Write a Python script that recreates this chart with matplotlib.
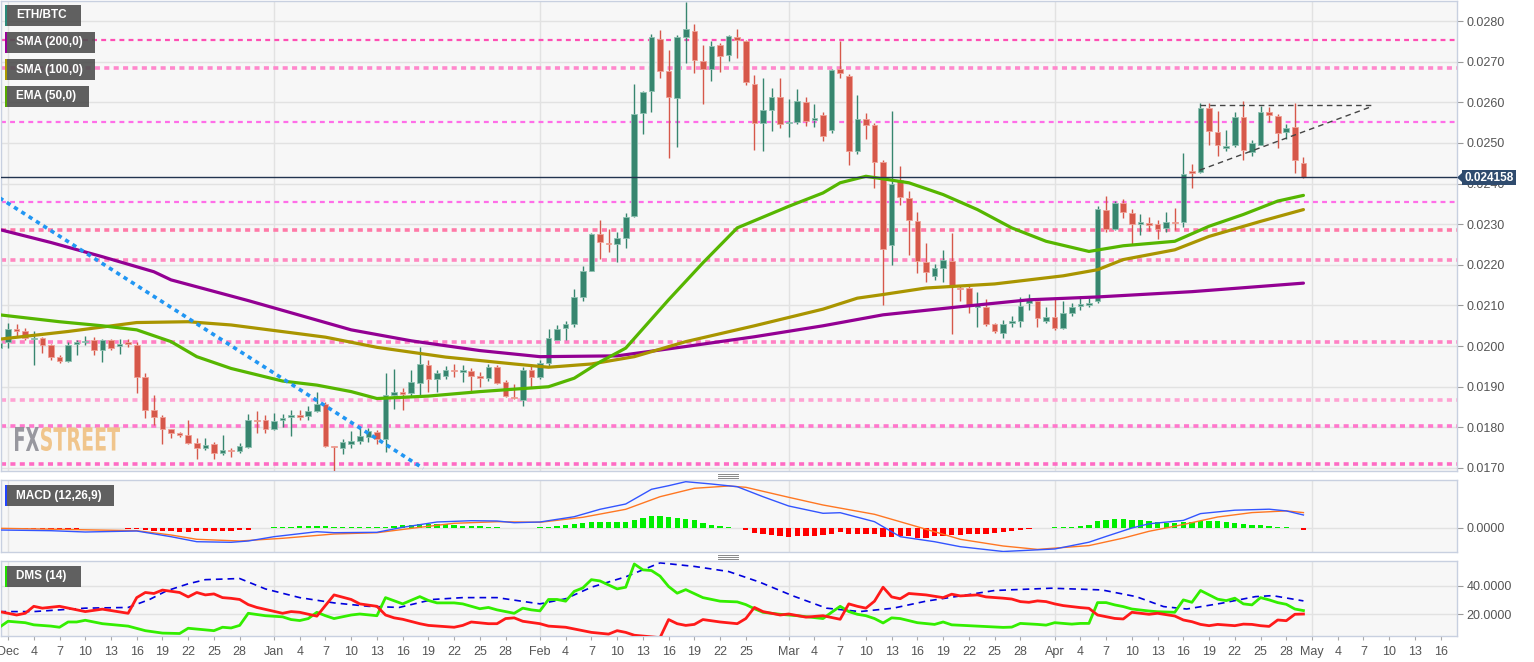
import numpy as np
import pandas as pd
import matplotlib
matplotlib.use('Agg')
import matplotlib.pyplot as plt
from matplotlib.patches import Rectangle, Polygon, PathPatch
from matplotlib.lines import Line2D
from matplotlib.textpath import TextPath
from matplotlib.font_manager import FontProperties
from matplotlib.transforms import Affine2D

plt.rcParams['font.family'] = ['Liberation Sans', 'DejaVu Sans']

# ---- data (day offsets from 2019-12-01) ----
start = pd.Timestamp('2019-12-01')
candle_days = list(range(-1, 152))  # Nov 30 .. Apr 30

opens = [
    0.01995, 0.02011, 0.02042, 0.02036, 0.02017, 0.02021, 0.02003, 0.01972, 0.01964, 0.02005,
    0.02009, 0.02015, 0.01991, 0.02014, 0.02000, 0.02009, 0.02003, 0.01925, 0.01842, 0.01826,
    0.01795, 0.01786, 0.01780, 0.01762, 0.01749, 0.01759, 0.01737, 0.01743, 0.01742, 0.01752,
    0.01819, 0.01818, 0.01797, 0.01818, 0.01826, 0.01830, 0.01828, 0.01841, 0.01857, 0.01754,
    0.01750, 0.01760, 0.01767, 0.01777, 0.01789, 0.01771, 0.01879, 0.01886, 0.01885, 0.01910,
    0.01953, 0.01918, 0.01926, 0.01940, 0.01937, 0.01939, 0.01926, 0.01921, 0.01949, 0.01912,
    0.01874, 0.01867, 0.01941, 0.01923, 0.01958, 0.02015, 0.02044, 0.02055, 0.02122, 0.02186,
    0.02276, 0.02252, 0.02251, 0.02266, 0.02320, 0.02573, 0.02628, 0.02757, 0.02677, 0.02610,
    0.02762, 0.02776, 0.02702, 0.02682, 0.02741, 0.02716, 0.02762, 0.02752, 0.02645, 0.02548,
    0.02581, 0.02612, 0.02548, 0.02552, 0.02601, 0.02556, 0.02568, 0.02531, 0.02682, 0.02665,
    0.02479, 0.02560, 0.02544, 0.02454, 0.02250, 0.02408, 0.02365, 0.02309, 0.02206, 0.02173,
    0.02192, 0.02210, 0.02144, 0.02143, 0.02096, 0.02097, 0.02054, 0.02033, 0.02056, 0.02063,
    0.02106, 0.02112, 0.02063, 0.02071, 0.02044, 0.02081, 0.02099, 0.02102, 0.02110, 0.02336,
    0.02288, 0.02351, 0.02328, 0.02300, 0.02303, 0.02300, 0.02290, 0.02306, 0.02306, 0.02430,
    0.02428, 0.02587, 0.02527, 0.02487, 0.02496, 0.02565, 0.02478, 0.02496, 0.02575, 0.02566,
    0.02527, 0.02540, 0.02451]
highs = [
    0.02012, 0.02056, 0.02055, 0.02044, 0.02036, 0.02023, 0.02005, 0.01978, 0.02009, 0.02014,
    0.02025, 0.02023, 0.02017, 0.02017, 0.02017, 0.02017, 0.02009, 0.01933, 0.01879, 0.01830,
    0.01797, 0.01789, 0.01818, 0.01775, 0.01775, 0.01764, 0.01781, 0.01748, 0.01762, 0.01834,
    0.01841, 0.01830, 0.01836, 0.01834, 0.01842, 0.01842, 0.01853, 0.01888, 0.01863, 0.01755,
    0.01772, 0.01791, 0.01799, 0.01799, 0.01793, 0.01933, 0.01943, 0.01896, 0.01941, 0.01999,
    0.01967, 0.01940, 0.01951, 0.01955, 0.01953, 0.01945, 0.01937, 0.01956, 0.01953, 0.01916,
    0.01907, 0.01949, 0.01955, 0.01966, 0.02042, 0.02052, 0.02063, 0.02140, 0.02196, 0.02278,
    0.02311, 0.02287, 0.02280, 0.02328, 0.02646, 0.02627, 0.02768, 0.02779, 0.02729, 0.02765,
    0.02848, 0.02793, 0.02742, 0.02752, 0.02747, 0.02766, 0.02780, 0.02754, 0.02668, 0.02661,
    0.02636, 0.02659, 0.02608, 0.02632, 0.02614, 0.02595, 0.02575, 0.02682, 0.02752, 0.02669,
    0.02617, 0.02573, 0.02548, 0.02457, 0.02579, 0.02443, 0.02381, 0.02329, 0.02255, 0.02203,
    0.02237, 0.02278, 0.02148, 0.02147, 0.02134, 0.02116, 0.02056, 0.02065, 0.02073, 0.02122,
    0.02129, 0.02116, 0.02097, 0.02116, 0.02110, 0.02106, 0.02124, 0.02118, 0.02344, 0.02369,
    0.02357, 0.02361, 0.02338, 0.02326, 0.02318, 0.02310, 0.02329, 0.02340, 0.02476, 0.02447,
    0.02599, 0.02598, 0.02579, 0.02533, 0.02575, 0.02603, 0.02507, 0.02591, 0.02589, 0.02571,
    0.02546, 0.02599, 0.02466]
lows = [
    0.01990, 0.01995, 0.02025, 0.02014, 0.01954, 0.01982, 0.01966, 0.01959, 0.01962, 0.01978,
    0.02003, 0.01978, 0.01961, 0.01991, 0.01981, 0.01999, 0.01885, 0.01822, 0.01805, 0.01760,
    0.01775, 0.01777, 0.01759, 0.01723, 0.01744, 0.01721, 0.01731, 0.01727, 0.01737, 0.01748,
    0.01786, 0.01786, 0.01793, 0.01800, 0.01778, 0.01818, 0.01818, 0.01838, 0.01752, 0.01693,
    0.01734, 0.01748, 0.01760, 0.01764, 0.01759, 0.01740, 0.01844, 0.01842, 0.01875, 0.01879,
    0.01888, 0.01888, 0.01918, 0.01923, 0.01912, 0.01884, 0.01900, 0.01915, 0.01907, 0.01874,
    0.01869, 0.01853, 0.01900, 0.01918, 0.01949, 0.02014, 0.02015, 0.02046, 0.02110, 0.02184,
    0.02214, 0.02231, 0.02206, 0.02241, 0.02318, 0.02521, 0.02576, 0.02661, 0.02464, 0.02491,
    0.02696, 0.02673, 0.02597, 0.02653, 0.02675, 0.02701, 0.02710, 0.02643, 0.02482, 0.02480,
    0.02529, 0.02538, 0.02515, 0.02546, 0.02542, 0.02540, 0.02505, 0.02525, 0.02660, 0.02445,
    0.02472, 0.02509, 0.02390, 0.02102, 0.02200, 0.02348, 0.02225, 0.02180, 0.02159, 0.02162,
    0.02159, 0.02030, 0.02112, 0.02081, 0.02046, 0.02050, 0.02032, 0.02019, 0.02048, 0.02048,
    0.02089, 0.02046, 0.02056, 0.02040, 0.02042, 0.02074, 0.02089, 0.02096, 0.02106, 0.02280,
    0.02285, 0.02315, 0.02252, 0.02274, 0.02283, 0.02264, 0.02280, 0.02285, 0.02292, 0.02390,
    0.02425, 0.02496, 0.02468, 0.02480, 0.02491, 0.02459, 0.02468, 0.02494, 0.02552, 0.02488,
    0.02510, 0.02427, 0.02414]
closes = [
    0.02007, 0.02042, 0.02037, 0.02019, 0.02019, 0.02003, 0.01972, 0.01963, 0.02003, 0.02009,
    0.02010, 0.01991, 0.02014, 0.01996, 0.02005, 0.02005, 0.01925, 0.01842, 0.01826, 0.01795,
    0.01786, 0.01780, 0.01762, 0.01748, 0.01757, 0.01737, 0.01744, 0.01742, 0.01754, 0.01818,
    0.01816, 0.01797, 0.01816, 0.01824, 0.01830, 0.01826, 0.01840, 0.01857, 0.01754, 0.01752,
    0.01763, 0.01766, 0.01779, 0.01791, 0.01772, 0.01879, 0.01887, 0.01882, 0.01912, 0.01956,
    0.01919, 0.01933, 0.01940, 0.01938, 0.01938, 0.01927, 0.01922, 0.01949, 0.01910, 0.01877,
    0.01872, 0.01941, 0.01925, 0.01958, 0.02020, 0.02042, 0.02055, 0.02121, 0.02184, 0.02276,
    0.02256, 0.02251, 0.02266, 0.02318, 0.02571, 0.02626, 0.02762, 0.02676, 0.02614, 0.02760,
    0.02780, 0.02705, 0.02682, 0.02738, 0.02714, 0.02764, 0.02754, 0.02650, 0.02548, 0.02581,
    0.02612, 0.02547, 0.02552, 0.02603, 0.02554, 0.02562, 0.02517, 0.02679, 0.02673, 0.02479,
    0.02558, 0.02545, 0.02454, 0.02239, 0.02400, 0.02367, 0.02311, 0.02209, 0.02182, 0.02192,
    0.02213, 0.02148, 0.02140, 0.02102, 0.02101, 0.02055, 0.02036, 0.02055, 0.02063, 0.02099,
    0.02116, 0.02069, 0.02071, 0.02044, 0.02081, 0.02097, 0.02103, 0.02107, 0.02338, 0.02288,
    0.02351, 0.02329, 0.02301, 0.02305, 0.02298, 0.02287, 0.02306, 0.02303, 0.02424, 0.02427,
    0.02587, 0.02529, 0.02494, 0.02492, 0.02565, 0.02482, 0.02499, 0.02576, 0.02568, 0.02525,
    0.02538, 0.02458, 0.024158]
last_price = 0.024158

sma200_days = [-1, 5, 11, 17, 19, 28, 32, 40, 47, 55, 62, 71, 79, 87, 95, 102, 111, 119, 127, 138, 151]
sma200_vals = [0.02287, 0.02255, 0.02220, 0.02183, 0.02163, 0.02112, 0.02088, 0.02040, 0.02013, 0.01989,
               0.01974, 0.01976, 0.01999, 0.02023, 0.02050, 0.02077, 0.02097, 0.02114, 0.02121, 0.02134, 0.02155]
sma100_days = [-1, 7, 15, 21, 26, 33, 37, 43, 51, 59, 63, 68, 73, 79, 87, 95, 99, 102, 107, 115, 123,
               127, 130, 136, 140, 146, 151]
sma100_vals = [0.02017, 0.02036, 0.02058, 0.02060, 0.02052, 0.02033, 0.02022, 0.01997, 0.01973, 0.01956,
               0.01948, 0.01956, 0.01974, 0.02011, 0.02050, 0.02091, 0.02118, 0.02127, 0.02143, 0.02153,
               0.02173, 0.02188, 0.02213, 0.02237, 0.02270, 0.02307, 0.02336]
ema50_days = [-1, 6, 11, 15, 19, 22, 26, 32, 36, 40, 43, 49, 55, 59, 63, 66, 69, 72, 77, 81, 85, 91, 95,
              97, 100, 105, 109, 113, 117, 121, 126, 130, 136, 140, 144, 148, 151]
ema50_vals = [0.02077, 0.02060, 0.02050, 0.02040, 0.02011, 0.01974, 0.01945, 0.01914, 0.01904, 0.01888,
              0.01871, 0.01877, 0.01888, 0.01894, 0.01900, 0.01921, 0.01961, 0.01995, 0.02114, 0.02205,
              0.02291, 0.02344, 0.02377, 0.02402, 0.02418, 0.02402, 0.02373, 0.02336, 0.02291, 0.02258,
              0.02233, 0.02247, 0.02258, 0.02295, 0.02324, 0.02357, 0.02371]

levels = [0.02753, 0.02684, 0.02551, 0.02354, 0.02286, 0.02211, 0.02009, 0.01868, 0.01804, 0.01709]
level_colors = ['#ff4fb4', '#ff88cc', '#ff6ee8', '#ff6ee8', '#ff7aa8', '#ff88c0', '#ff80c4',
                '#ffa3d3', '#ff78cc', '#ff6cc4']
level_thick = [False, True, False, False, True, True, True, True, True, True]

trend_days = [-1, 48.4]
trend_vals = [0.02365, 0.01699]
tri_top_days = [138.9, 159]
tri_top_vals = [0.02593, 0.02593]
tri_low_days = [138.9, 159]
tri_low_vals = [0.02433, 0.02590]

macd_hist = [
    -0.00001, -0.00001, -0.00001, -0.00001, -0.00001, -0.00001, -0.00001, -0.00001, -0.00001, -0.00001,
    -0.000006, -0.000006, -0.000006, -0.000006, -0.000006, -0.00001, -0.00002, -0.00004, -0.00005, -0.00006,
    -0.000066, -0.00007, -0.00007, -0.000066, -0.000066, -0.00006, -0.000056, -0.00005, -0.00004, -0.00003,
    0.000004, 0.000008, 0.000014, 0.00002, 0.00003, 0.00004, 0.00005, 0.00005, 0.00004, 0.00003,
    0.000024, 0.00002, 0.000016, 0.000014, 0.000014, 0.00002, 0.00005, 0.00006, 0.00007, 0.00008,
    0.00008, 0.00008, 0.000076, 0.00006, 0.00005, 0.000044, 0.000036, 0.000024, 0.000016, 0.000004,
    -0.000006, -0.000004, 0.000006, 0.00002, 0.00003, 0.00004, 0.00006, 0.00008, 0.0001, 0.00012,
    0.00013, 0.00013, 0.00013, 0.00013, 0.00016, 0.0002, 0.00025, 0.00024, 0.00022, 0.0002,
    0.00019, 0.00016, 0.0001, 0.00007, 0.00004, 0.00002, 0.000006, -0.00003, -0.000106, -0.000126,
    -0.00014, -0.000166, -0.000174, -0.00016, -0.00016, -0.00016, -0.000146, -0.000114, -0.00008, -0.000114,
    -0.000114, -0.000114, -0.000114, -0.00018, -0.00018, -0.00016, -0.000166, -0.000194, -0.000194, -0.000166,
    -0.00016, -0.000146, -0.00014, -0.000126, -0.000126, -0.000114, -0.000106, -0.000088, -0.000068, -0.000034,
    -0.000014, -0.000006, 0.000004, 0.000014, 0.00002, 0.000028, 0.000048, 0.000062, 0.000136, 0.000156,
    0.00019, 0.00019, 0.00017, 0.000156, 0.000136, 0.000122, 0.000102, 0.000102, 0.000116, 0.000116,
    0.00015, 0.00015, 0.000136, 0.000116, 0.000108, 0.000082, 0.000062, 0.000054, 0.000048, 0.000028,
    0.000014, 0.0, -0.00004]
macd_days = [-1, 5, 9, 15, 19, 22, 26, 28, 31, 36, 38, 43, 46, 50, 54, 57, 59, 62, 66, 69, 72, 75, 77,
             79, 82, 85, 88, 91, 95, 97, 101, 104, 108, 111, 116, 122, 126, 128, 131, 133, 137, 139,
             143, 147, 149, 151]
macd_vals = [-0.00004, -0.000054, -0.00008, -0.00006, -0.000174, -0.000274, -0.000286, -0.00026, -0.000174,
             -0.000074, -0.000094, -0.000086, 0.000014, 0.00012, 0.000146, 0.00014, 0.000106, 0.00012,
             0.000226, 0.000374, 0.00048, 0.000774, 0.000846, 0.000926, 0.00088, 0.000826, 0.000626,
             0.00044, 0.000294, 0.000306, 0.000126, -0.000174, -0.000274, -0.000374, -0.00047, -0.00042,
             -0.000284, -0.000168, 0.0, 0.000084, 0.000152, 0.000288, 0.000356, 0.000376, 0.000342, 0.00026]
signal_days = [-1, 15, 19, 22, 27, 32, 38, 43, 48, 52, 57, 62, 67, 72, 76, 80, 84, 86, 91, 95, 101, 106,
               111, 116, 120, 126, 130, 133, 137, 141, 145, 149, 151]
signal_vals = [-0.000006, -0.000054, -0.00014, -0.000226, -0.00026, -0.000206, -0.00012, -0.000094,
               0.000014, 0.000094, 0.000126, 0.000114, 0.000214, 0.000374, 0.000626, 0.000794, 0.00084,
               0.000814, 0.000614, 0.00046, 0.000274, 0.000026, -0.000226, -0.00036, -0.000428, -0.000352,
               -0.000202, -0.000066, 0.00007, 0.00022, 0.000308, 0.000342, 0.000308]

di_minus_days = [-1, 1, 2, 3, 4, 6, 9, 11, 14, 15, 16, 17, 18, 20, 21, 22, 23, 24, 25, 26, 27, 28, 29, 32,
                 33, 34, 36, 37, 38, 40, 41, 43, 44, 45, 46, 48, 49, 52, 53, 54, 56, 57, 58, 59, 60, 62,
                 63, 65, 68, 70, 71, 72, 73, 76, 77, 78, 79, 80, 81, 83, 85, 86, 87, 88, 90, 91, 93, 95,
                 97, 98, 99, 100, 101, 102, 103, 104, 105, 107, 109, 110, 111, 113, 114, 116, 117, 118,
                 119, 120, 121, 122, 123, 125, 126, 127, 128, 129, 130, 131, 133, 134, 136, 137, 138, 139,
                 140, 141, 143, 144, 145, 146, 147, 148, 149, 150, 151]
di_minus_vals = [21.7, 19.3, 20.5, 25.4, 24.1, 25.4, 21.7, 23.4, 20.5, 31.5, 35.1, 34.4, 36.8, 35.1, 32.0,
                 35.1, 33.4, 34.1, 31.5, 31.0, 30.2, 26.6, 24.6, 20.5, 21.7, 21.2, 18.5, 26.0, 33.4, 30.2,
                 27.1, 25.4, 19.3, 17.3, 16.3, 13.2, 12.0, 10.7, 12.0, 14.4, 13.2, 13.2, 16.8, 17.3, 14.9,
                 13.2, 11.5, 10.7, 7.1, 5.9, 8.3, 7.1, 5.1, 3.4, 16.1, 13.2, 12.0, 12.7, 16.1, 14.4, 13.2,
                 16.8, 24.6, 21.7, 19.3, 20.0, 17.8, 18.8, 16.3, 27.1, 25.4, 24.1, 29.0, 38.8, 32.0, 30.7,
                 34.4, 33.4, 31.5, 33.9, 32.7, 33.4, 32.0, 31.1, 30.5, 28.7, 28.2, 29.2, 28.7, 27.1, 25.9,
                 24.5, 24.0, 19.3, 18.1, 16.9, 16.5, 21.2, 19.8, 20.5, 18.6, 15.8, 14.6, 12.7, 11.8, 12.7,
                 11.8, 12.9, 12.7, 11.8, 11.3, 15.8, 15.3, 19.8, 20.0]
di_plus_days = [-1, 0, 2, 3, 5, 6, 7, 8, 9, 11, 14, 16, 18, 20, 21, 24, 25, 26, 27, 28, 30, 32, 33, 34,
                35, 36, 37, 38, 40, 41, 43, 44, 46, 48, 49, 50, 52, 53, 55, 56, 57, 59, 60, 61, 62, 63,
                64, 65, 66, 67, 68, 69, 71, 72, 73, 74, 75, 76, 77, 78, 79, 81, 83, 85, 86, 87, 88, 90,
                92, 95, 96, 97, 98, 99, 100, 101, 102, 103, 104, 106, 108, 109, 110, 113, 116, 117, 118,
                120, 121, 122, 124, 125, 126, 127, 128, 129, 130, 131, 133, 134, 136, 137, 138, 139, 141,
                142, 143, 144, 145, 146, 147, 148, 149, 150, 151]
di_plus_vals = [10.7, 14.9, 13.9, 12.4, 11.5, 10.7, 14.4, 14.4, 15.6, 13.2, 11.5, 8.3, 6.6, 6.3, 10.0,
                8.3, 10.7, 10.2, 12.0, 20.5, 18.8, 18.0, 16.1, 15.4, 16.8, 21.2, 18.8, 16.8, 19.3, 20.0,
                18.8, 31.5, 27.1, 32.2, 29.5, 27.8, 27.8, 27.1, 23.7, 24.6, 22.9, 20.5, 24.1, 22.9, 22.2,
                30.2, 30.2, 29.0, 35.9, 38.3, 44.1, 43.2, 37.6, 38.8, 55.1, 51.0, 50.5, 46.6, 39.3, 34.6,
                37.1, 31.5, 29.0, 28.5, 26.6, 23.7, 21.2, 19.8, 18.8, 16.8, 21.2, 25.4, 21.7, 19.8, 18.8,
                16.8, 13.7, 17.3, 16.8, 13.9, 12.7, 14.4, 12.4, 11.5, 10.6, 10.8, 13.4, 12.7, 12.2, 13.9,
                12.9, 13.4, 13.4, 28.0, 28.0, 26.4, 25.2, 23.5, 22.1, 21.6, 21.2, 29.9, 28.2, 36.5, 30.4,
                29.4, 31.1, 27.1, 26.4, 31.5, 29.9, 28.0, 26.8, 23.5, 22.4]
adx_days = [-1, 3, 9, 14, 16.5, 18.5, 21, 23, 27, 30, 34, 38, 42, 45.6, 49.5, 53, 57, 62, 65, 68, 72, 76,
            80, 84, 87.6, 91.5, 95.4, 99.3, 103.2, 107, 111, 115, 121.6, 127.5, 131.5, 134.7, 137.4,
            141.4, 145.4, 147.4, 151]
adx_vals = [21.7, 21.7, 24.1, 24.6, 30.2, 36.3, 41.2, 44.1, 44.9, 37.6, 31.5, 27.8, 25.4, 24.6, 30.2,
            31.5, 31.5, 27.1, 30.7, 38.8, 46.1, 55.9, 53.4, 49.8, 42.4, 32.7, 24.1, 21.7, 24.1, 29.0,
            32.7, 36.5, 38.1, 36.9, 32.2, 25.2, 23.5, 27.5, 32.2, 32.9, 29.2]

# ---- figure ----
W, H = 1534, 662
fig = plt.figure(figsize=(W / 100, H / 100), dpi=100)
fig.patch.set_facecolor('white')


def pix_axes(x0, y0, x1, y1):
    return fig.add_axes([x0 / W, 1 - y1 / H, (x1 - x0) / W, (y1 - y0) / H])


ax = pix_axes(1, 1, 1457, 471)
ax_macd = pix_axes(1, 480, 1457, 552)
ax_dms = pix_axes(1, 561, 1457, 636)

xmin, xmax = -0.82, 168.9
month_starts = pd.date_range('2019-12-01', '2020-06-01', freq='MS')
month_offsets = [(m - start).days for m in month_starts]
ticks, tick_labels = [], []
for i, m in enumerate(month_starts[:-1]):
    for dd in range(1, 29, 3):
        off = (m + pd.Timedelta(days=dd - 1) - start).days
        if off > xmax or month_offsets[i + 1] - off < 3:
            continue
        ticks.append(off)
        tick_labels.append(m.strftime('%b') if dd == 1 else str(dd))

for a in (ax, ax_macd, ax_dms):
    a.set_facecolor('#f7f7f7')
    a.set_xlim(xmin, xmax)
    for s in a.spines.values():
        s.set_color('#c8d0e0')
        s.set_linewidth(1)
    for m in month_offsets:
        a.axvline(m, color='#e2e2e2', lw=1, zorder=0)
    a.yaxis.tick_right()
    a.tick_params(axis='y', direction='out', length=4, color='#999999', labelcolor='#555555',
                  labelsize=9, pad=3)
    a.set_xticks(ticks)
    a.tick_params(axis='x', length=0, labelbottom=False)

# main panel
ax.set_ylim(0.016926, 0.028494)
yt = np.round(np.arange(0.017, 0.02801, 0.001), 4)
ax.set_yticks(yt)
ax.set_yticklabels(['%.4f' % v for v in yt])
for v in yt:
    ax.axhline(v, color='#e2e2e2', lw=1, zorder=0)

for lv, col, thick in zip(levels, level_colors, level_thick):
    if thick:
        ax.axhline(lv, color=col, lw=2.6, dashes=(1.4, 1.2), zorder=1)
    else:
        ax.axhline(lv, color=col, lw=1.6, dashes=(2.2, 1.9), zorder=1)

x = np.array(candle_days, dtype=float)
o, h, l, c = (np.array(v) for v in (opens, highs, lows, closes))
up = c >= o
body = np.maximum(np.abs(c - o), 0.00003)
bottom = np.minimum(o, c)
UP, DOWN = '#37866f', '#d6584a'
for mask, col, edge in ((up, UP, '#8fc2b2'), (~up, DOWN, '#f0a196')):
    ax.vlines(x[mask], l[mask], h[mask], color=col, lw=1, zorder=3)
    ax.bar(x[mask], body[mask], bottom=bottom[mask], width=0.66, color=col,
           edgecolor=edge, linewidth=0.6, zorder=4)

ax.plot(sma200_days, sma200_vals, color='#930093', lw=2.3, zorder=5, solid_capstyle='round')
ax.plot(sma100_days, sma100_vals, color='#a99500', lw=2.3, zorder=5, solid_capstyle='round')
ax.plot(ema50_days, ema50_vals, color='#56b600', lw=2.3, zorder=5, solid_capstyle='round')

ax.plot(trend_days, trend_vals, color='#2196f3', lw=2.6, dashes=(1.2, 1.2), zorder=6)
ax.plot(tri_top_days, tri_top_vals, color='#444444', lw=1, dashes=(4, 3), zorder=6)
ax.plot(tri_low_days, tri_low_vals, color='#444444', lw=1, dashes=(4, 3), zorder=6)

ax.axhline(last_price, color='#22344f', lw=1, zorder=6)

# MACD panel
ax_macd.set_ylim(-0.00048, 0.00096)
ax_macd.set_yticks([0.0])
ax_macd.set_yticklabels(['0.0000'])
ax_macd.axhline(0, color='#e2e2e2', lw=1, zorder=0)
hist = np.array(macd_hist)
ax_macd.bar(x, hist, width=0.62, color=np.where(hist >= 0, '#00ee00', '#ff0000'), zorder=2)
ax_macd.plot(signal_days, signal_vals, color='#ff7722', lw=1, zorder=3)
ax_macd.plot(macd_days, macd_vals, color='#3355ff', lw=1, zorder=3)

# DMS panel
ax_dms.set_ylim(4.56, 57.2)
ax_dms.set_yticks([20, 40])
ax_dms.set_yticklabels(['20.0000', '40.0000'])
for v in (20, 40):
    ax_dms.axhline(v, color='#e2e2e2', lw=1, zorder=0)
ax_dms.plot(adx_days, adx_vals, color='#0000dd', lw=1.2, dashes=(4, 3), zorder=2)
ax_dms.plot(di_plus_days, di_plus_vals, color='#33ee00', lw=2, zorder=3)
ax_dms.plot(di_minus_days, di_minus_vals, color='#ff1a1a', lw=2, zorder=4)
ax_dms.set_xticklabels(tick_labels)
ax_dms.tick_params(axis='x', labelbottom=True, labelcolor='#555555', labelsize=9, pad=4,
                   length=3, color='#aaaaaa')


# tag boxes
def tag(y0, y1, x1, text, stripe):
    fig.patches.append(Rectangle((5 / W, 1 - y1 / H), (x1 - 5) / W, (y1 - y0) / H,
                                 transform=fig.transFigure, facecolor='#4f4f4f', alpha=0.9,
                                 edgecolor='none', zorder=20))
    fig.patches.append(Rectangle((5 / W, 1 - y1 / H), 2 / W, (y1 - y0) / H,
                                 transform=fig.transFigure, facecolor=stripe,
                                 edgecolor='none', zorder=21))
    fig.text(16 / W, 1 - (y0 + y1) / 2 / H, text, color='white', fontweight='bold',
             fontsize=8.5, va='center', ha='left', zorder=22)


tag(5, 26, 81, 'ETH/BTC', '#2a8a7a')
tag(32, 53, 95, 'SMA (200,0)', '#990099')
tag(59, 80, 95, 'SMA (100,0)', '#aa9900')
tag(86, 107, 89, 'EMA (50,0)', '#55aa00')
tag(485, 506, 114, 'MACD (12,26,9)', '#2244ff')
tag(566, 587, 81, 'DMS (14)', '#22dd00')

# last price label
fig.patches.append(Polygon([[1457 / W, 1 - 177.5 / H], [1463 / W, 1 - 172 / H],
                            [1463 / W, 1 - 183 / H]], closed=True, transform=fig.transFigure,
                           facecolor='#2f4b6e', edgecolor='none', zorder=20))
fig.patches.append(Rectangle((1462 / W, 1 - 185 / H), 54 / W, 15 / H, transform=fig.transFigure,
                             facecolor='#2f4b6e', edgecolor='none', zorder=20))
fig.text(1489 / W, 1 - 177.5 / H, '%.6f' % last_price, color='white', fontweight='bold',
         fontsize=8.5, ha='center', va='center', zorder=22)


# watermark, squeezed into the logo's box (pixel coords from the top-left)
def logo_text(s, x0, x1, y_top, y_base, color):
    tp = TextPath((0, 0), s, size=30, prop=FontProperties(family='DejaVu Sans', weight='bold'))
    ext = tp.get_extents()
    tr = (Affine2D().translate(-ext.x0, -ext.y0)
          .scale((x1 - x0) / ext.width, (y_base - y_top) / ext.height)
          .translate(x0, H - y_base))
    fig.patches.append(PathPatch(tp, transform=tr, facecolor=color, edgecolor='none',
                                 alpha=0.9, zorder=19))


logo_text('FX', 15, 39, 427, 451, '#8e8e96')
logo_text('STREET', 41, 120, 427, 451, '#f0c080')

# panel handles
for yy in (474, 476, 478, 555, 557, 559):
    fig.add_artist(Line2D([718 / W, 738 / W], [1 - yy / H, 1 - yy / H], color='#888888', lw=0.7))

fig.savefig('out.png', dpi=100, facecolor='white')
